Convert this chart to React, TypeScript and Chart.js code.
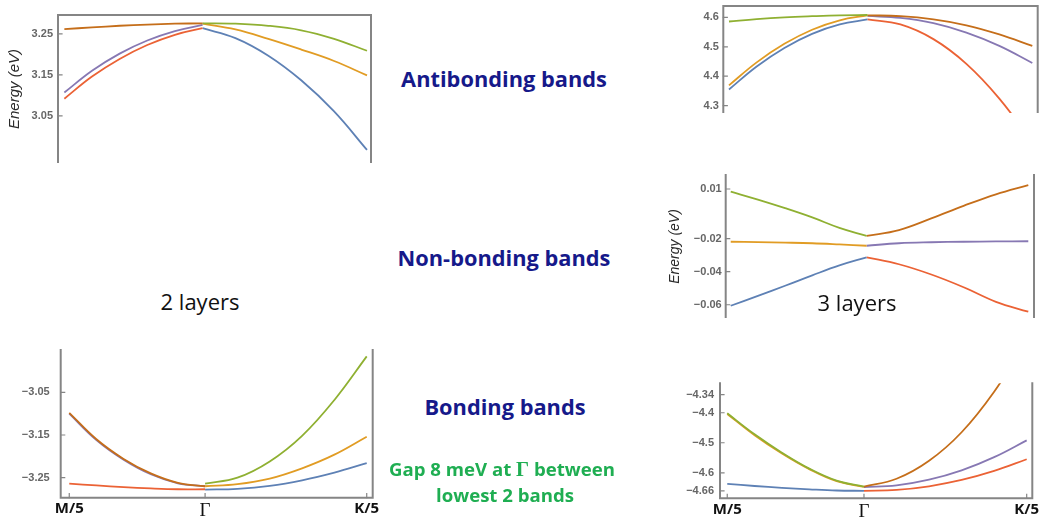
import React, { useEffect, useRef } from 'react';
import { Chart, registerables } from 'chart.js';

Chart.register(...registerables);

const COL = {
  blue: '#5E81B5',
  orange: '#E19C24',
  green: '#8FB032',
  red: '#EB6235',
  purple: '#8778B3',
  brown: '#C56E1A',
};

// shared k-path: M/5 -> Gamma -> K/5
const kM = [-1, -0.8, -0.6, -0.4, -0.2, 0];
const kK = [0, 0.238, 0.476, 0.714, 0.952, 1.19];
const xTicks = [-1, 0, 1.19];
const xLabels = ['M/5', 'Γ', 'K/5'];

// 2 layers – antibonding
const a2BrownM = [3.262, 3.266, 3.27, 3.273, 3.275, 3.276];
const a2PurpleM = [3.107, 3.16, 3.202, 3.234, 3.257, 3.272];
const a2RedM = [3.092, 3.146, 3.189, 3.223, 3.248, 3.264];
const a2GreenK = [3.276, 3.275, 3.27, 3.259, 3.238, 3.209];
const a2OrangeK = [3.275, 3.261, 3.238, 3.212, 3.184, 3.149];
const a2BlueK = [3.264, 3.24, 3.197, 3.137, 3.061, 2.967];
const a2YTicks = [3.05, 3.15, 3.25];
const a2YLabels = ['3.05', '3.15', '3.25'];

// 3 layers – antibonding
const a3GreenM = [4.586, 4.594, 4.6, 4.604, 4.607, 4.608];
const a3OrangeM = [4.369, 4.447, 4.51, 4.558, 4.59, 4.607];
const a3BlueM = [4.355, 4.433, 4.496, 4.544, 4.576, 4.593];
const a3BrownK = [4.607, 4.604, 4.593, 4.573, 4.542, 4.503];
const a3PurpleK = [4.605, 4.598, 4.58, 4.548, 4.503, 4.445];
const a3RedK = [4.593, 4.576, 4.526, 4.442, 4.324, 4.175];
const a3YTicks = [4.3, 4.4, 4.5, 4.6];
const a3YLabels = ['4.3', '4.4', '4.5', '4.6'];

// 3 layers – non-bonding
const n3GreenM = [0.0084, 0.0036, -0.0016, -0.0072, -0.0135, -0.0184];
const n3OrangeM = [-0.0219, -0.0221, -0.0224, -0.0228, -0.0235, -0.0243];
const n3BlueM = [-0.0606, -0.0546, -0.0485, -0.0422, -0.0362, -0.0313];
const n3BrownK = [-0.0184, -0.0148, -0.0078, -0.0002, 0.0068, 0.0124];
const n3PurpleK = [-0.0243, -0.0228, -0.0222, -0.0219, -0.0217, -0.0216];
const n3RedK = [-0.0313, -0.0355, -0.0417, -0.0494, -0.0582, -0.0642];
const n3YTicks = [-0.06, -0.04, -0.02, 0.01];
const n3YLabels = ['−0.06', '−0.04', '−0.02', '0.01'];

// 2 layers – bonding
const b2BrownM = [-3.098, -3.16, -3.206, -3.24, -3.262, -3.27];
const b2PurpleM = [-3.1, -3.162, -3.208, -3.242, -3.263, -3.27];
const b2RedM = [-3.264, -3.268, -3.272, -3.275, -3.277, -3.277];
const b2GreenK = [-3.264, -3.25, -3.212, -3.152, -3.068, -2.966];
const b2OrangeK = [-3.27, -3.265, -3.252, -3.228, -3.196, -3.154];
const b2BlueK = [-3.278, -3.276, -3.269, -3.256, -3.238, -3.216];
const b2YTicks = [-3.25, -3.15, -3.05];
const b2YLabels = ['−3.25', '−3.15', '−3.05'];

// 3 layers – bonding
const b3GreenM = [-4.402, -4.472, -4.533, -4.586, -4.626, -4.646];
const b3OrangeM = [-4.404, -4.475, -4.536, -4.588, -4.628, -4.647];
const b3BlueM = [-4.637, -4.644, -4.65, -4.655, -4.659, -4.66];
const b3BrownK = [-4.646, -4.62, -4.56, -4.465, -4.33, -4.16];
const b3PurpleK = [-4.648, -4.642, -4.623, -4.592, -4.548, -4.492];
const b3RedK = [-4.66, -4.657, -4.645, -4.624, -4.594, -4.555];
const b3YTicks = [-4.66, -4.6, -4.5, -4.4, -4.34];
const b3YLabels = ['−4.66', '−4.6', '−4.5', '−4.4', '−4.34'];

type Series = { color: string; k: number[]; v: number[] };
type Panel = {
  key: string;
  box: { left: number; top: number; width: number; height: number };
  padTop: number;
  padRight: number;
  yW: number;
  xH: number;
  xMin: number;
  xMax: number;
  yMin: number;
  yMax: number;
  yTicks: number[];
  yLabels: string[];
  yPad: number;
  title?: { size: number; pad: number };
  sides: string[];
  showX: boolean;
  series: Series[];
};

const panels: Panel[] = [
  {
    key: 'a2',
    box: { left: 0, top: 0, width: 375, height: 163 },
    padTop: 15, padRight: 4, yW: 58, xH: 0,
    xMin: -1.046, xMax: 1.219, yMin: 2.935, yMax: 3.2963,
    yTicks: a2YTicks, yLabels: a2YLabels, yPad: 5,
    title: { size: 15, pad: 6 },
    sides: ['left', 'right', 'top'], showX: false,
    series: [
      { color: COL.brown, k: kM, v: a2BrownM },
      { color: COL.purple, k: kM, v: a2PurpleM },
      { color: COL.red, k: kM, v: a2RedM },
      { color: COL.green, k: kK, v: a2GreenK },
      { color: COL.orange, k: kK, v: a2OrangeK },
      { color: COL.blue, k: kK, v: a2BlueK },
    ],
  },
  {
    key: 'a3',
    box: { left: 660, top: 0, width: 382, height: 113 },
    padTop: 6, padRight: 4.3, yW: 63.3, xH: 0,
    xMin: -1.041, xMax: 1.229, yMin: 4.275, yMax: 4.6386,
    yTicks: a3YTicks, yLabels: a3YLabels, yPad: 4.5,
    sides: ['left', 'right', 'top'], showX: false,
    series: [
      { color: COL.green, k: kM, v: a3GreenM },
      { color: COL.orange, k: kM, v: a3OrangeM },
      { color: COL.blue, k: kM, v: a3BlueM },
      { color: COL.brown, k: kK, v: a3BrownK },
      { color: COL.purple, k: kK, v: a3PurpleK },
      { color: COL.red, k: kK, v: a3RedK },
    ],
  },
  {
    key: 'n3',
    box: { left: 660, top: 170, width: 378, height: 148 },
    padTop: 5, padRight: 4, yW: 65.7, xH: 0,
    xMin: -1.037, xMax: 1.232, yMin: -0.068, yMax: 0.01847,
    yTicks: n3YTicks, yLabels: n3YLabels, yPad: 4,
    title: { size: 14, pad: 6.6 },
    sides: ['left', 'right'], showX: false,
    series: [
      { color: COL.green, k: kM, v: n3GreenM },
      { color: COL.orange, k: kM, v: n3OrangeM },
      { color: COL.blue, k: kM, v: n3BlueM },
      { color: COL.brown, k: kK, v: n3BrownK },
      { color: COL.purple, k: kK, v: n3PurpleK },
      { color: COL.red, k: kK, v: n3RedK },
    ],
  },
  {
    key: 'b2',
    box: { left: 0, top: 345, width: 392, height: 177 },
    padTop: 5, padRight: 19.3, yW: 60.7, xH: 24.3,
    xMin: -1.063, xMax: 1.234, yMin: -3.2968, yMax: -2.951,
    yTicks: b2YTicks, yLabels: b2YLabels, yPad: 11,
    sides: ['left', 'right', 'bottom'], showX: true,
    series: [
      { color: COL.brown, k: kM, v: b2BrownM },
      { color: COL.purple, k: kM, v: b2PurpleM },
      { color: COL.red, k: kM, v: b2RedM },
      { color: COL.green, k: kK, v: b2GreenK },
      { color: COL.orange, k: kK, v: b2OrangeK },
      { color: COL.blue, k: kK, v: b2BlueK },
    ],
  },
  {
    key: 'b3',
    box: { left: 660, top: 378, width: 384, height: 144 },
    padTop: 5.3, padRight: 11.7, yW: 60, xH: 23.7,
    xMin: -1.053, xMax: 1.231, yMin: -4.685, yMax: -4.302,
    yTicks: b3YTicks, yLabels: b3YLabels, yPad: 6,
    sides: ['left', 'right', 'bottom'], showX: true,
    series: [
      { color: COL.green, k: kM, v: b3GreenM },
      { color: COL.orange, k: kM, v: b3OrangeM },
      { color: COL.blue, k: kM, v: b3BlueM },
      { color: COL.brown, k: kK, v: b3BrownK },
      { color: COL.purple, k: kK, v: b3PurpleK },
      { color: COL.red, k: kK, v: b3RedK },
    ],
  },
];

const framePlugin = {
  id: 'frame',
  afterDatasetsDraw(chart: any, _args: any, opts: any) {
    const { ctx, chartArea: a } = chart;
    ctx.save();
    ctx.strokeStyle = '#858585';
    ctx.lineWidth = 2;
    ctx.lineCap = 'square';
    ctx.beginPath();
    const s: string[] = opts.sides || [];
    if (s.includes('left')) { ctx.moveTo(a.left, a.top); ctx.lineTo(a.left, a.bottom); }
    if (s.includes('right')) { ctx.moveTo(a.right, a.top); ctx.lineTo(a.right, a.bottom); }
    if (s.includes('top')) { ctx.moveTo(a.left, a.top); ctx.lineTo(a.right, a.top); }
    if (s.includes('bottom')) { ctx.moveTo(a.left, a.bottom); ctx.lineTo(a.right, a.bottom); }
    ctx.stroke();
    ctx.lineWidth = 1.2;
    ctx.beginPath();
    const ys = chart.scales.y;
    ys.ticks.forEach((t: any) => {
      const py = ys.getPixelForValue(t.value);
      ctx.moveTo(a.left, py);
      ctx.lineTo(a.left + 4, py);
    });
    if (opts.xTicks) {
      const xs = chart.scales.x;
      xs.ticks.forEach((t: any) => {
        const px = xs.getPixelForValue(t.value);
        ctx.moveTo(px, a.bottom);
        ctx.lineTo(px, a.bottom - 4);
      });
    }
    ctx.stroke();
    ctx.restore();
  },
};

function PanelChart({ p }: { p: Panel }) {
  const ref = useRef<HTMLCanvasElement | null>(null);
  useEffect(() => {
    if (!ref.current) return;
    const chart = new Chart(ref.current, {
      type: 'line',
      data: {
        datasets: p.series.map((s) => ({
          data: s.k.map((x, i) => ({ x, y: s.v[i] })),
          borderColor: s.color,
          borderWidth: 1.8,
          pointRadius: 0,
          fill: false,
          tension: 0.4,
        })),
      },
      options: {
        responsive: false,
        animation: false,
        events: [],
        layout: { padding: { top: p.padTop, right: p.padRight, left: 0, bottom: 0 } },
        plugins: {
          legend: { display: false },
          tooltip: { enabled: false },
          frame: { sides: p.sides, xTicks: p.showX },
        } as any,
        scales: {
          x: {
            type: 'linear',
            min: p.xMin,
            max: p.xMax,
            display: p.showX,
            grid: { display: false, drawTicks: false },
            border: { display: false },
            afterBuildTicks: (sc: any) => {
              sc.ticks = xTicks.map((v) => ({ value: v }));
            },
            afterFit: (sc: any) => {
              sc.height = p.xH;
              sc.paddingLeft = 0;
              sc.paddingRight = 0;
            },
            ticks: {
              autoSkip: false,
              maxRotation: 0,
              padding: 2,
              color: '#111',
              callback: (_v: any, i: number) => xLabels[i],
              font: (ctx: any) =>
                ctx.index === 1
                  ? { family: '"Liberation Serif", serif', size: 19, weight: 'normal' }
                  : { family: '"Open Sans", sans-serif', size: 15, weight: 'bold' },
            },
          },
          y: {
            type: 'linear',
            min: p.yMin,
            max: p.yMax,
            grid: { display: false, drawTicks: false },
            border: { display: false },
            afterBuildTicks: (sc: any) => {
              sc.ticks = p.yTicks.map((v) => ({ value: v }));
            },
            afterFit: (sc: any) => {
              sc.width = p.yW;
              sc.paddingTop = 0;
              sc.paddingBottom = 0;
            },
            ticks: {
              autoSkip: false,
              padding: p.yPad,
              color: '#666666',
              font: { family: '"Liberation Sans", Arial, sans-serif', size: 11, weight: 'bold' },
              callback: (_v: any, i: number) => p.yLabels[i],
            },
            title: p.title
              ? {
                  display: true,
                  text: 'Energy (eV)',
                  color: '#2a2a2a',
                  font: { family: '"Liberation Sans", Arial, sans-serif', size: p.title.size, style: 'italic' },
                  padding: { top: p.title.pad, bottom: 0 },
                }
              : { display: false },
          },
        },
      } as any,
      plugins: [framePlugin],
    });
    return () => chart.destroy();
  }, [p]);
  return (
    <canvas
      ref={ref}
      width={p.box.width}
      height={p.box.height}
      style={{
        position: 'absolute',
        left: p.box.left,
        top: p.box.top,
        width: p.box.width,
        height: p.box.height,
        display: 'block',
      }}
    />
  );
}

const NAVY = '#16198A';
const GREEN_TXT = '#1FAE52';

function Label({ x, y, children, style }: { x: number; y: number; children: any; style: any }) {
  return (
    <div
      style={{
        position: 'absolute',
        left: x,
        top: y,
        transform: 'translate(-50%, -50%)',
        whiteSpace: 'nowrap',
        lineHeight: 1,
        ...style,
      }}
    >
      {children}
    </div>
  );
}

const headStyle = { fontFamily: '"Open Sans", sans-serif', fontWeight: 700, fontSize: 21.8, color: NAVY };
const layerStyle = { fontFamily: '"Open Sans", sans-serif', fontWeight: 400, fontSize: 22, color: '#111' };
const gapStyle = { fontFamily: '"Open Sans", sans-serif', fontWeight: 700, fontSize: 18.6, color: GREEN_TXT };

export default function App() {
  return (
    <div
      style={{
        position: 'fixed',
        left: 0,
        top: 0,
        width: 1044,
        height: 522,
        background: '#fff',
        overflow: 'hidden',
      }}
    >
      {panels.map((p) => (
        <PanelChart key={p.key} p={p} />
      ))}
      <Label x={504} y={79.4} style={headStyle}>Antibonding bands</Label>
      <Label x={504} y={258.4} style={headStyle}>Non-bonding bands</Label>
      <Label x={505} y={407} style={headStyle}>Bonding bands</Label>
      <Label x={200} y={301} style={layerStyle}>2 layers</Label>
      <Label x={857} y={302} style={layerStyle}>3 layers</Label>
      <Label x={502} y={468.5} style={gapStyle}>
        Gap 8 meV at <span style={{ fontFamily: '"Liberation Serif", serif', fontWeight: 700, fontSize: 20.5 }}>Γ</span> between
      </Label>
      <Label x={505} y={494.5} style={gapStyle}>lowest 2 bands</Label>
    </div>
  );
}
